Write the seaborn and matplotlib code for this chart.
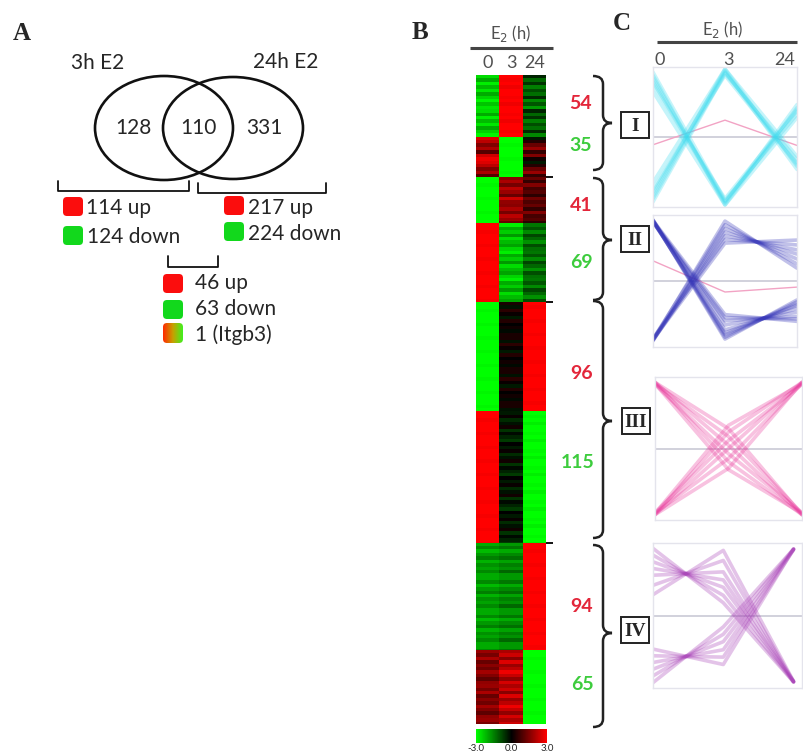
import numpy as np
import pandas as pd
import seaborn as sns
import matplotlib.pyplot as plt
from matplotlib.colors import LinearSegmentedColormap
from matplotlib.patches import Ellipse, FancyBboxPatch, Rectangle, PathPatch
from matplotlib.path import Path

sns.set_style("white")
plt.rcParams["font.family"] = ["Lato", "DejaVu Sans"]

W, H = 804, 753

# ---- Panel A: Venn counts
venn_sets = ["3h E2", "24h E2"]
venn_counts = [128, 110, 331]
left_updown = [114, 124]
right_updown = [217, 224]
shared_updown = [46, 63]
shared_other = "1 (Itgb3)"

# ---- Panel B: heatmap blocks (rows per block, stripe values per column)
time_labels = ["0", "3", "24"]
block_sizes = [54, 35, 41, 69, 96, 115, 94, 65]
block_colors = ["up", "down", "up", "down", "up", "down", "up", "down"]
stripes_0h = [
    [-2.6, -2.0, -2.8, -2.2, -2.7, -2.0, -2.5, -2.9, -2.3, -2.7],
    [2.6, 2.2, 1.5, 2.0, 1.0, 2.4, 2.8],
    [-3.0, -3.0, -2.9, -3.0],
    [3.0, 3.0, 2.9, 3.0],
    [-3.0, -3.0, -2.9, -3.0],
    [3.0, 3.0, 2.9, 3.0],
    [-2.0, -1.6, -2.2, -1.8, -1.5, -2.1, -1.7, -1.9, -1.6, -2.0],
    [1.8, 1.4, 2.0, 1.2, 1.6, 1.3, 1.9, 1.5, 1.1, 1.7],
]
stripes_3h = [
    [3.0, 2.9, 3.0, 2.8, 3.0],
    [-3.0, -3.0, -2.9, -3.0],
    [1.6, 2.0, 1.4, 2.2, 1.8, 1.2, 2.4, 1.7],
    [-2.8, -2.0, -2.4, -1.8, -2.6, -2.2, -1.9, -2.5],
    [0.3, -0.2, 0.5, 0.1, -0.3, 0.4, 0.0, 0.2, -0.1, 0.3],
    [-0.3, 0.1, -0.5, -0.2, 0.2, -0.6, -0.1, -0.4, -0.7, 0.0],
    [-1.8, -1.4, -2.0, -1.6, -1.3, -1.9, -1.5, -1.7, -1.2, -1.8],
    [2.0, 2.4, 1.6, 2.6, 1.8, 2.2, 2.8, 2.3, 1.7, 2.5],
]
stripes_24h = [
    [-0.4, -1.2, -0.6, -1.5, -0.9, -1.3, -0.5, -1.6, -1.0, -1.8],
    [-0.3, 0.4, 1.2, 1.8, 0.6, 1.5, 0.2],
    [1.2, 0.6, 1.5, 0.8, 1.0, 0.5, 1.3, 0.9],
    [-1.4, -1.0, -1.6, -0.8, -1.2, -1.7, -0.9, -1.3],
    [3.0, 2.9, 3.0, 3.0],
    [-3.0, -2.9, -3.0, -2.8, -3.0],
    [3.0, 3.0, 2.9, 3.0],
    [-3.0, -3.0, -2.9, -3.0],
]
cbar_labels = ["-3.0", "0.0", "3.0"]

# ---- Panel C: cluster profiles (0h, 3h, 24h)
cluster_names = ["I", "II", "III", "IV"]
profiles_I = [
    [-0.95, 1.00, -0.40], [-0.90, 1.05, -0.45], [-1.00, 0.98, -0.35],
    [-0.85, 1.02, -0.50], [-0.80, 0.95, -0.42], [-0.70, 1.05, -0.30],
    [0.90, -1.00, 0.40], [0.95, -1.05, 0.45], [1.00, -0.98, 0.35],
    [0.85, -1.02, 0.50], [0.80, -0.95, 0.42], [0.70, -1.05, 0.30],
]
profiles_II = [
    [1.00, -0.92, -0.34], [0.98, -0.88, -0.38], [0.97, -0.80, -0.45],
    [0.99, -0.72, -0.51], [0.96, -0.65, -0.58], [1.00, -0.95, -0.31],
    [0.98, -0.85, -0.40], [0.97, -0.60, -0.62], [0.99, -0.55, -0.66],
    [-0.97, 0.98, 0.21], [-0.95, 0.92, 0.28], [-0.98, 0.86, 0.36],
    [-0.96, 0.80, 0.44], [-0.97, 0.74, 0.51], [-0.94, 0.68, 0.59],
    [-0.96, 0.62, 0.67],
]
profiles_III = [
    [1.00, 0.30, -1.00], [0.98, 0.18, -0.98], [1.00, 0.05, -1.00],
    [0.97, -0.08, -0.97], [1.00, -0.20, -1.00], [0.98, -0.32, -0.98],
    [-1.00, -0.30, 1.00], [-0.98, -0.15, 0.98], [-1.00, 0.00, 1.00],
    [-0.97, 0.12, 0.97], [-1.00, 0.25, 1.00], [-0.98, 0.35, 0.98],
]
profiles_IV = [
    [1.00, 0.19, -0.99], [0.90, 0.30, -0.99], [0.80, 0.42, -0.98],
    [0.70, 0.53, -0.99], [0.60, 0.65, -0.98], [0.45, 0.82, -0.99],
    [0.31, 0.97, -0.98],
    [-1.00, -0.17, 0.99], [-0.90, -0.28, 0.99], [-0.80, -0.39, 0.98],
    [-0.70, -0.51, 0.99], [-0.60, -0.62, 0.98], [-0.50, -0.73, 0.99],
]
profile_sets = [profiles_I, profiles_II, profiles_III, profiles_IV]
mean_profiles = [[-0.12, 0.26, -0.13], [0.33, -0.18, -0.10], None, None]
cluster_colors = ["#3fdcef", "#3434b8", "#e8359a", "#a53ab5"]
cluster_boxes = [(653, 67, 797, 207), (653, 215, 797, 347),
                 (655, 377, 802, 520), (653, 543, 802, 688)]

fig = plt.figure(figsize=(W / 100, H / 100), dpi=100)


def px_axes(x0, y0, x1, y1):
    return fig.add_axes([x0 / W, 1 - y1 / H, (x1 - x0) / W, (y1 - y0) / H])


# heatmap: each stripe value spans 3 gene rows, cycling through the list
rows = []
for n, s0, s3, s24 in zip(block_sizes, stripes_0h, stripes_3h, stripes_24h):
    for i in range(n):
        j = i // 3
        rows.append([s0[j % len(s0)], s3[j % len(s3)], s24[j % len(s24)]])
heat = pd.DataFrame(rows, columns=time_labels)

cmap = LinearSegmentedColormap.from_list("gbr", ["#00ff00", "#000000", "#ff0000"])
hax = px_axes(476, 75, 546, 724)
cax = px_axes(476, 729, 547, 743)
sns.heatmap(heat, cmap=cmap, vmin=-3, vmax=3, ax=hax, cbar_ax=cax,
            cbar_kws={"orientation": "horizontal", "ticks": [-3, 0, 3]},
            xticklabels=time_labels, yticklabels=False)
hax.xaxis.tick_top()
hax.tick_params(axis="x", length=0, labelsize=13, labelcolor="#505050", pad=3)
hax.set_ylabel("")
bounds = np.cumsum(block_sizes)[[1, 3, 5]]
hax.hlines(bounds, 3.0, 3.28, color="black", lw=1.3, clip_on=False)
cb = hax.collections[0].colorbar
cb.outline.set_visible(False)
cax.set_xticklabels(cbar_labels, fontsize=7)
cax.tick_params(length=0, pad=1)

# cluster profile panels
for name, profs, mean, col, box in zip(cluster_names, profile_sets, mean_profiles,
                                       cluster_colors, cluster_boxes):
    ax = px_axes(*box)
    recs = []
    for g, p in enumerate(profs):
        for t, v in enumerate(p):
            recs.append({"gene": g, "t": t, "value": v})
    df = pd.DataFrame(recs)
    ax.axhline(0, color="#c9c9d6", lw=1.2, zorder=0)
    if mean is not None:
        ax.plot([0, 1, 2], mean, color="#f2a3c4", lw=1.0, zorder=1)
    sns.lineplot(data=df, x="t", y="value", units="gene", estimator=None,
                 color=col, alpha=0.3, lw=2.6, ax=ax, legend=False)
    ax.set_ylim(-1.08, 1.08)
    ax.set_xlim(0, 2.12 if name == "IV" else 2.0)
    ax.set_xticks([])
    ax.set_yticks([])
    ax.set_xlabel("")
    ax.set_ylabel("")
    for s in ax.spines.values():
        s.set_color("#e4e4ec")
        s.set_linewidth(1.0)

# overlay for diagram parts and annotations
ov = fig.add_axes([0, 0, 1, 1])
ov.set_xlim(0, W)
ov.set_ylim(H, 0)
ov.axis("off")
ov.patch.set_visible(False)

serif = "Liberation Serif"
for lab, x, y in [("A", 22, 33), ("B", 420, 32), ("C", 622, 23)]:
    ov.text(x, y, lab, family=serif, weight="bold", fontsize=18, ha="center", va="center")

# Venn
ov.add_patch(Ellipse((164, 128), 138, 104, fill=False, lw=1.9, ec="#111111"))
ov.add_patch(Ellipse((233, 128), 140, 102, fill=False, lw=1.9, ec="#111111"))
ov.text(98, 63, venn_sets[0], fontsize=15, ha="center", va="center")
ov.text(286, 62, venn_sets[1], fontsize=15, ha="center", va="center")
for c, x in zip(venn_counts, [133, 198, 264]):
    ov.text(x, 128, str(c), fontsize=15, ha="center", va="center")

# brackets
for x0, x1, y0, y1 in [(58, 189, 181, 191), (198, 326, 183, 193), (168, 218, 256, 267)]:
    ov.plot([x0, x0, x1, x1], [y0, y1, y1, y0], color="#111111", lw=1.3)

RED, GREEN = "#fb0d0d", "#12d81c"


def square(x, y, color):
    ov.add_patch(FancyBboxPatch((x, y), 20, 19, boxstyle="round,pad=0,rounding_size=4",
                                fc=color, ec="none"))


square(63, 197, RED)
ov.text(86, 208, f"{left_updown[0]} up", fontsize=15, va="center")
square(63, 226, GREEN)
ov.text(87, 237, f"{left_updown[1]} down", fontsize=15, va="center")
square(224, 196, RED)
ov.text(248, 208, f"{right_updown[0]} up", fontsize=15, va="center")
square(224, 222, GREEN)
ov.text(248, 234, f"{right_updown[1]} down", fontsize=15, va="center")
square(163, 274, RED)
ov.text(195, 283, f"{shared_updown[0]} up", fontsize=15, va="center")
square(163, 300, GREEN)
ov.text(195, 309, f"{shared_updown[1]} down", fontsize=15, va="center")
grad_box = FancyBboxPatch((163, 323), 20, 20, boxstyle="round,pad=0,rounding_size=4",
                          fc="none", ec="none")
ov.add_patch(grad_box)
gcmap = LinearSegmentedColormap.from_list("rg", ["#ff2a00", "#c8a000", "#40f020"])
im = ov.imshow(np.linspace(0, 1, 50)[None, :], cmap=gcmap, extent=(163, 183, 343, 323),
               aspect="auto", interpolation="bilinear")
im.set_clip_path(grad_box)
ov.set_xlim(0, W)
ov.set_ylim(H, 0)
ov.text(195, 335, shared_other, fontsize=15, va="center")

# headers over heatmap and profiles
ov.text(511, 33, "E$_2$ (h)", fontsize=12, color="#505050", ha="center", va="center")
ov.plot([470, 553], [48, 48], color="#444444", lw=2.2, solid_capstyle="butt")
ov.text(723, 29, "E$_2$ (h)", fontsize=12, color="#505050", ha="center", va="center")
ov.plot([657, 797], [42, 42], color="#444444", lw=2.2, solid_capstyle="butt")
for lab, x in zip(time_labels, [660, 728, 785]):
    ov.text(x, 60, lab, fontsize=13, color="#505050", ha="center", va="center")

# counts next to heatmap
count_pos = [(581, 103), (581, 145), (581, 205), (581, 262),
             (582, 373), (578, 462), (582, 606), (582, 684)]
for n, kind, (x, y) in zip(block_sizes, block_colors, count_pos):
    ov.text(x, y, str(n), fontsize=14, weight="bold", ha="center", va="center",
            color="#e3263a" if kind == "up" else "#3dcc3d")


# braces
def brace(x, y0, y1, ym, wl=10, wr=9, k=8):
    verts = [(x - wl, y0), (x, y0), (x, y0 + k), (x, ym - k), (x, ym), (x + wr, ym),
             (x, ym), (x, ym + k), (x, y1 - k), (x, y1), (x - wl, y1)]
    codes = [Path.MOVETO, Path.CURVE3, Path.CURVE3, Path.LINETO, Path.CURVE3, Path.CURVE3,
             Path.CURVE3, Path.CURVE3, Path.LINETO, Path.CURVE3, Path.CURVE3]
    ov.add_patch(PathPatch(Path(verts, codes), fill=False, lw=1.8, ec="#222222"))


brace_spans = [(76, 170, 123), (178, 300, 240), (301, 538, 421), (545, 727, 633)]
box_centers = [(635, 125), (635, 239), (636, 421), (635, 630)]
for name, (y0, y1, ym), (bx, by) in zip(cluster_names, brace_spans, box_centers):
    brace(603, y0, y1, ym)
    ov.add_patch(Rectangle((bx - 14, by - 13), 28, 26, fc="white", ec="#222222", lw=1.4))
    ov.text(bx, by + 1, name, family=serif, weight="bold", fontsize=14,
            ha="center", va="center")

fig.savefig("out.png", dpi=100)
